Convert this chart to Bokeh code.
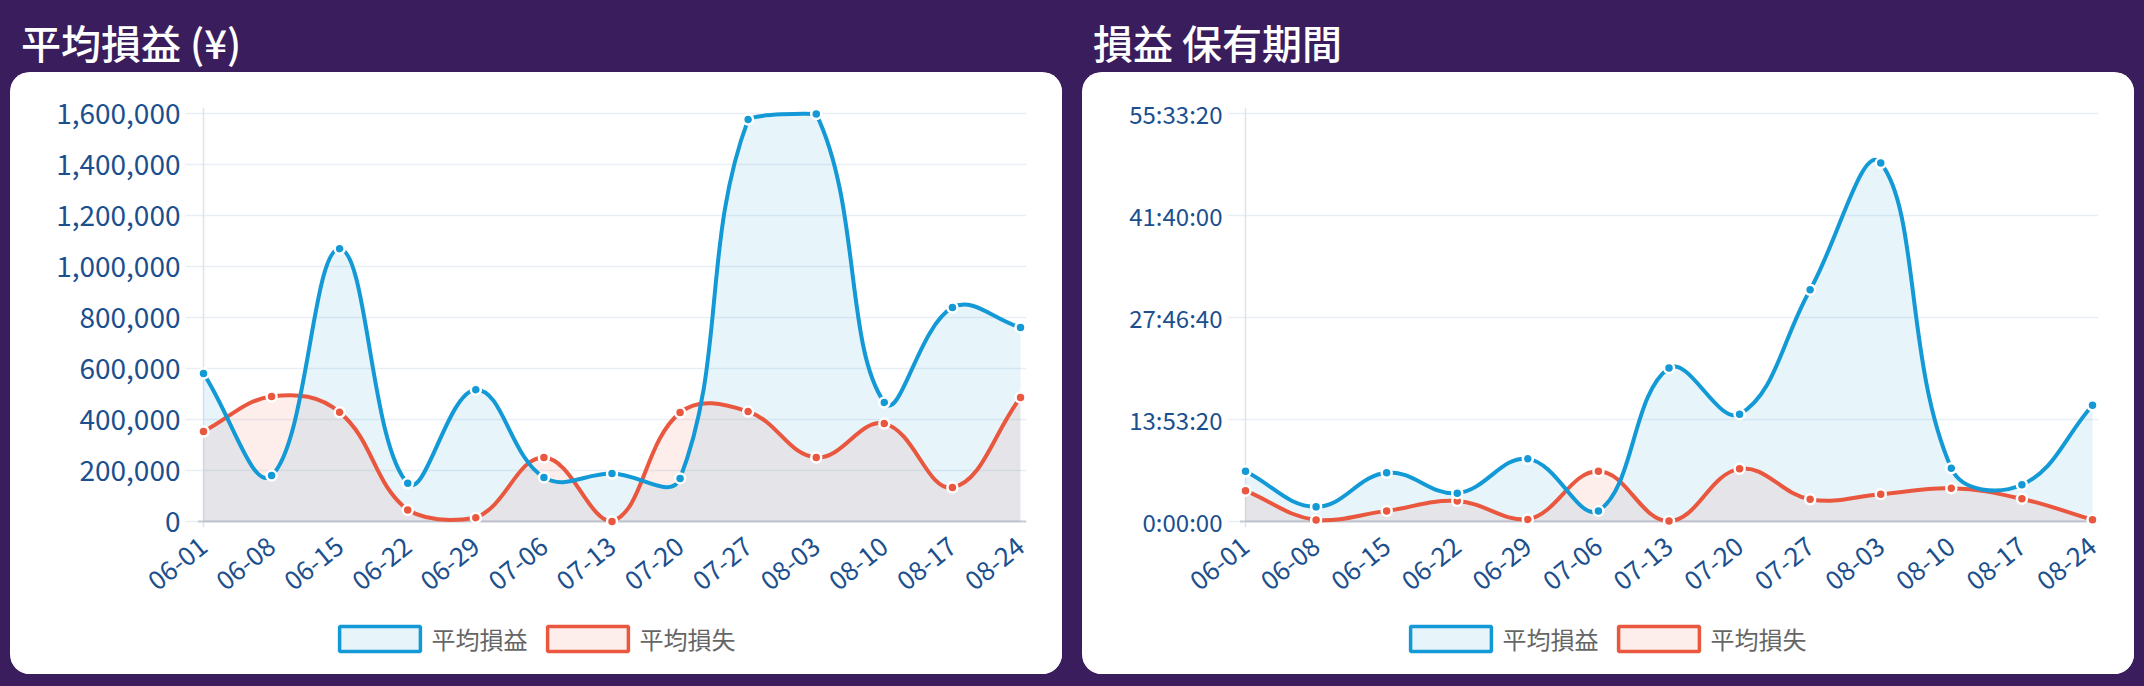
import math
from bokeh.plotting import figure
from bokeh.models import (Div, Legend, LegendItem, FixedTicker, NumeralTickFormatter,
                          Span, Range1d)
from bokeh.layouts import column
from bokeh.embed import file_html
from bokeh.resources import INLINE

# ---------------- data ----------------
weeks = ["06-01", "06-08", "06-15", "06-22", "06-29", "07-06", "07-13",
         "07-20", "07-27", "08-03", "08-10", "08-17", "08-24"]
series_names = ["平均損益", "平均損失"]
titles = ["平均損益 (¥)", "損益 保有期間"]

pnl_avg_profit = [580000, 180000, 1070000, 150000, 517000, 173000, 188000,
                  169000, 1576000, 1598000, 467000, 839000, 761000]
pnl_avg_loss = [353000, 490000, 428000, 45000, 15000, 251000, 0,
                427000, 431000, 251000, 384000, 133000, 486000]

# holding period in seconds
hold_avg_profit = [24600, 7200, 23900, 13900, 30700, 5200, 75200,
                   52600, 113600, 175700, 26100, 18000, 57000]
hold_avg_loss = [15100, 700, 5200, 10000, 1000, 24600, 200,
                 25800, 10900, 13400, 16300, 11100, 800]

pnl_ticks = [0, 200000, 400000, 600000, 800000, 1000000, 1200000, 1400000, 1600000]
hold_ticks = [0, 50000, 100000, 150000, 200000]
hold_tick_labels = ["0:00:00", "13:53:20", "27:46:40", "41:40:00", "55:33:20"]

# ---------------- style ----------------
PURPLE = "#3a1d5c"
BLUE = "#1399d6"
RED = "#e9573f"
LABEL_BLUE = "#1b4f8e"
FONT = "Noto Sans CJK JP"
TENSION = 0.4


def chartjs_curve(xs, ys, sx, sy, xmax, ymax, t=TENSION):
    """Chart.js style cubic bezier control points (computed in pixel space)."""
    P = [(x * sx, y * sy) for x, y in zip(xs, ys)]
    n = len(P)
    c1, c2 = [], []
    for i in range(n):
        prev = P[i - 1] if i > 0 else P[i]
        cur = P[i]
        nxt = P[i + 1] if i < n - 1 else P[i]
        d01 = math.hypot(cur[0] - prev[0], cur[1] - prev[1])
        d12 = math.hypot(nxt[0] - cur[0], nxt[1] - cur[1])
        tot = d01 + d12
        s01 = d01 / tot if tot else 0.0
        s12 = d12 / tot if tot else 0.0
        fa, fb = t * s01, t * s12
        a = (cur[0] - fa * (nxt[0] - prev[0]), cur[1] - fa * (nxt[1] - prev[1]))
        b = (cur[0] + fb * (nxt[0] - prev[0]), cur[1] + fb * (nxt[1] - prev[1]))
        cap = lambda q: (min(max(q[0], 0), xmax * sx) / sx, min(max(q[1], 0), ymax * sy) / sy)
        c1.append(cap(a))
        c2.append(cap(b))
    seg = dict(x0=[], y0=[], x1=[], y1=[], cx0=[], cy0=[], cx1=[], cy1=[])
    fx, fy = [], []
    for i in range(n - 1):
        x0, y0 = xs[i], ys[i]
        x1, y1 = xs[i + 1], ys[i + 1]
        cx0, cy0 = c2[i]
        cx1, cy1 = c1[i + 1]
        for k, v in zip(seg.keys(), [x0, y0, x1, y1, cx0, cy0, cx1, cy1]):
            seg[k].append(v)
        steps = 30
        for j in range(steps + (1 if i == n - 2 else 0)):
            u = j / steps
            m = 1 - u
            fx.append(m**3 * x0 + 3 * m * m * u * cx0 + 3 * m * u * u * cx1 + u**3 * x1)
            fy.append(m**3 * y0 + 3 * m * m * u * cy0 + 3 * m * u * u * cy1 + u**3 * y1)
    return seg, fx, fy


def make_chart(profit, loss, ymax, yticks, inner_w, left_border, y_label_size,
               formatter=None, overrides=None):
    inner_h = 408
    pad = 6
    n = len(weeks)
    sx = inner_w / (n - 1)
    sy = inner_h / ymax
    xpad = pad / sx
    ypad = pad / sy
    p = figure(frame_width=inner_w + 2 * pad, frame_height=inner_h + 2 * pad,
               min_border_left=left_border - pad, min_border_right=42 - pad,
               min_border_top=41 - pad, min_border_bottom=153 - pad,
               x_range=Range1d(-xpad, n - 1 + xpad), y_range=Range1d(-ypad, ymax + ypad),
               output_backend="svg", toolbar_location=None, tools="",
               background_fill_color="white", border_fill_color="white",
               outline_line_color=None,
               styles={"border-radius": "20px", "overflow": "hidden",
                       "background-color": "white"})
    p.outline_line_color = None
    p.outline_line_alpha = 0
    p.outline_line_width = 0

    xs = list(range(n))
    curves = []
    for vals, col in ((loss, RED), (profit, BLUE)):
        seg, fx, fy = chartjs_curve(xs, vals, sx, sy, n - 1, ymax)
        curves.append((seg, col, vals))
        p.patch(x=[0] + fx + [n - 1], y=[0] + fy + [0], fill_color=col, fill_alpha=0.1,
                line_color=None)
    for seg, col, vals in curves:
        p.bezier(line_color=col, line_width=4, line_cap="round", **seg)
    for seg, col, vals in curves:
        p.scatter(xs, vals, size=10, fill_color=col, line_color="white", line_width=2.5)

    # axes
    p.xgrid.visible = False
    p.ygrid.ticker = FixedTicker(ticks=yticks)
    p.ygrid.grid_line_color = "#e9eef4"
    p.ygrid.grid_line_width = 1.5

    ya = p.yaxis[0]
    ya.ticker = FixedTicker(ticks=yticks)
    if formatter is not None:
        ya.formatter = formatter
    if overrides is not None:
        ya.major_label_overrides = overrides
    ya.axis_line_color = None
    ya.major_tick_line_color = "#e9eef4"
    ya.major_tick_line_width = 1.5
    ya.major_tick_out = 12
    ya.major_tick_in = 0
    ya.minor_tick_line_color = None
    ya.major_label_text_font = FONT
    ya.major_label_text_font_size = y_label_size
    ya.major_label_text_color = LABEL_BLUE
    ya.major_label_standoff = 5

    xa = p.xaxis[0]
    xa.ticker = FixedTicker(ticks=xs)
    xa.major_label_overrides = {i: w for i, w in enumerate(weeks)}
    xa.major_label_orientation = 0.68
    xa.axis_line_color = None
    xa.major_tick_line_color = None
    xa.major_tick_out = 0
    xa.minor_tick_line_color = None
    xa.major_label_text_font = FONT
    xa.major_label_text_font_size = "26px"
    xa.major_label_text_color = LABEL_BLUE
    xa.major_label_standoff = 15

    p.add_layout(Span(location=0, dimension="height", line_color="#dfe3e8",
                      line_width=1.5, level="underlay"))
    p.add_layout(Span(location=0, dimension="width", line_color="#c8ccd6",
                      line_width=2, level="underlay"))
    return p


def make_legend(left, top):
    lg = figure(width=440, height=46, x_range=Range1d(0, 1), y_range=Range1d(0, 1),
                min_border=0, output_backend="svg", toolbar_location=None, tools="",
                x_axis_type=None, y_axis_type=None, outline_line_color=None,
                background_fill_alpha=0, border_fill_alpha=0,
                styles={"position": "absolute", "left": f"{left}px", "top": f"{top}px"})
    lg.grid.visible = False
    items = []
    for name, col in zip(series_names, (BLUE, RED)):
        # legend swatch proxy, kept outside the visible range of this legend-only figure
        r = lg.quad(left=[2], right=[3], bottom=[2], top=[3], fill_color=col, fill_alpha=0.1,
                    line_color=col, line_width=3.5)
        items.append(LegendItem(label=name, renderers=[r]))
    legend = Legend(items=items, orientation="horizontal", location="top_left",
                    glyph_width=101, glyph_height=31, label_height=31,
                    label_text_font_size="24px", label_text_color="#666666",
                    label_text_font=FONT, spacing=9, label_standoff=2,
                    padding=0, margin=3, border_line_color=None,
                    background_fill_alpha=0)
    lg.add_layout(legend)
    return lg


p1 = make_chart(pnl_avg_profit, pnl_avg_loss, 1600000, pnl_ticks, 817, 193, "28px",
                formatter=NumeralTickFormatter(format="0,0"))
p2 = make_chart(hold_avg_profit, hold_avg_loss, 200000, hold_ticks, 847, 163, "24px",
                overrides={t: l for t, l in zip(hold_ticks, hold_tick_labels)})

title_style = {"color": "white", "font-size": "40px", "font-family": FONT,
               "font-weight": "500", "line-height": "1.45"}


def title_div(text):
    return Div(text=f'<div style="padding:10px 0 0 6px; white-space:nowrap">{text}</div>',
               width=1052, height=64, styles=title_style)


card1 = column(title_div(titles[0]), p1,
               styles={"position": "absolute", "left": "10px", "top": "-2px"})
card2 = column(title_div(titles[1]), p2,
               styles={"position": "absolute", "left": "1082px", "top": "-2px"})
leg1 = make_legend(325.5, 618)
leg2 = make_legend(1396.5, 618)

html = file_html([card1, card2, leg1, leg2], INLINE, title="chart")
page_css = f"<style>html, body {{ background-color: {PURPLE}; margin: 0; }}</style>"
html = html.replace("</head>", page_css + "</head>", 1)
open("out.html", "w").write(html)
